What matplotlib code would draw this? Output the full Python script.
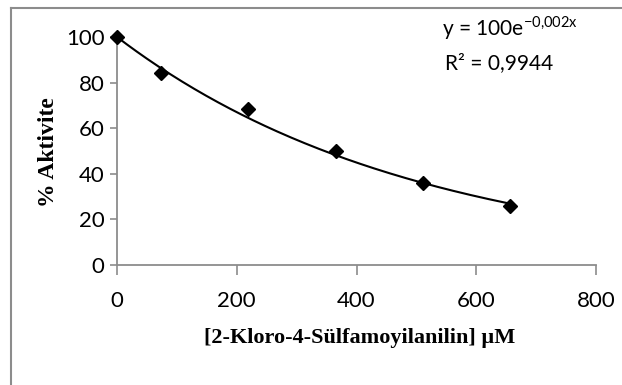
import numpy as np
import matplotlib
matplotlib.use("Agg")
import matplotlib.pyplot as plt
from matplotlib.lines import Line2D

# Data
concentration = [0, 73, 219, 365, 511, 657]
activity = [100, 84.2, 68.5, 50.0, 36.0, 26.0]
x_ticks = [0, 200, 400, 600, 800]
y_ticks = [0, 20, 40, 60, 80, 100]
fit_a = 100
fit_b = -0.002
equation_text = "y = 100e"
equation_sup = "-0,002x"
r2_text = "R² = 0,9944"
xlabel = "[2-Kloro-4-Sülfamoyilanilin] µM"
ylabel = "% Aktivite"

plt.rcParams['font.family'] = ['Lato', 'DejaVu Sans']
plt.rcParams['mathtext.fontset'] = 'custom'
plt.rcParams['mathtext.rm'] = 'Lato'

fig = plt.figure(figsize=(6.22, 3.85), dpi=100)
ax = fig.add_axes([117/622, 1 - 265/385, (596-117)/622, (265-37)/385])

gray = '#8c8c8c'
# border of chart area
fig.add_artist(Line2D([11/622, 11/622], [0, 1 - 8/385], transform=fig.transFigure, color=gray, lw=1.5))
fig.add_artist(Line2D([11/622, 1], [1 - 8/385, 1 - 8/385], transform=fig.transFigure, color=gray, lw=1.5))

# trend line
xf = np.linspace(min(concentration), max(concentration), 200)
ax.plot(xf, fit_a * np.exp(fit_b * xf), color='black', lw=1.5, zorder=2)
ax.plot(concentration, activity, linestyle='none', marker='D', color='black',
        markersize=7, clip_on=False, zorder=3)

ax.set_xlim(0, 800)
ax.set_ylim(0, 100)
ax.set_xticks(x_ticks)
ax.set_yticks(y_ticks)
ax.tick_params(axis='x', direction='out', length=7, width=1.2, color=gray, labelsize=16, pad=12)
ax.tick_params(axis='y', direction='out', length=5, width=1.2, color=gray, labelsize=16, pad=4)
for s in ['top', 'right']:
    ax.spines[s].set_visible(False)
for s in ['left', 'bottom']:
    ax.spines[s].set_color(gray)
    ax.spines[s].set_linewidth(1.3)

serif = ['Liberation Serif', 'DejaVu Serif']
fig.text(360/622, 1 - 338/385, xlabel, ha='center', va='center',
         family=serif, fontweight='bold', fontsize=16)
fig.text(48/622, 1 - 152/385, ylabel, ha='center', va='center', rotation=90,
         family=serif, fontweight='bold', fontsize=17)

sup = equation_sup.replace('-', '{-}').replace(',', '{,}')
fig.text(442/622, 1 - 35/385, equation_text + r"$^{\mathrm{" + sup + "}}$",
         ha='left', va='baseline', fontsize=15)
fig.text(499/622, 1 - 69/385, r2_text, ha='center', va='baseline', fontsize=15)

fig.savefig('out.png', dpi=100)
